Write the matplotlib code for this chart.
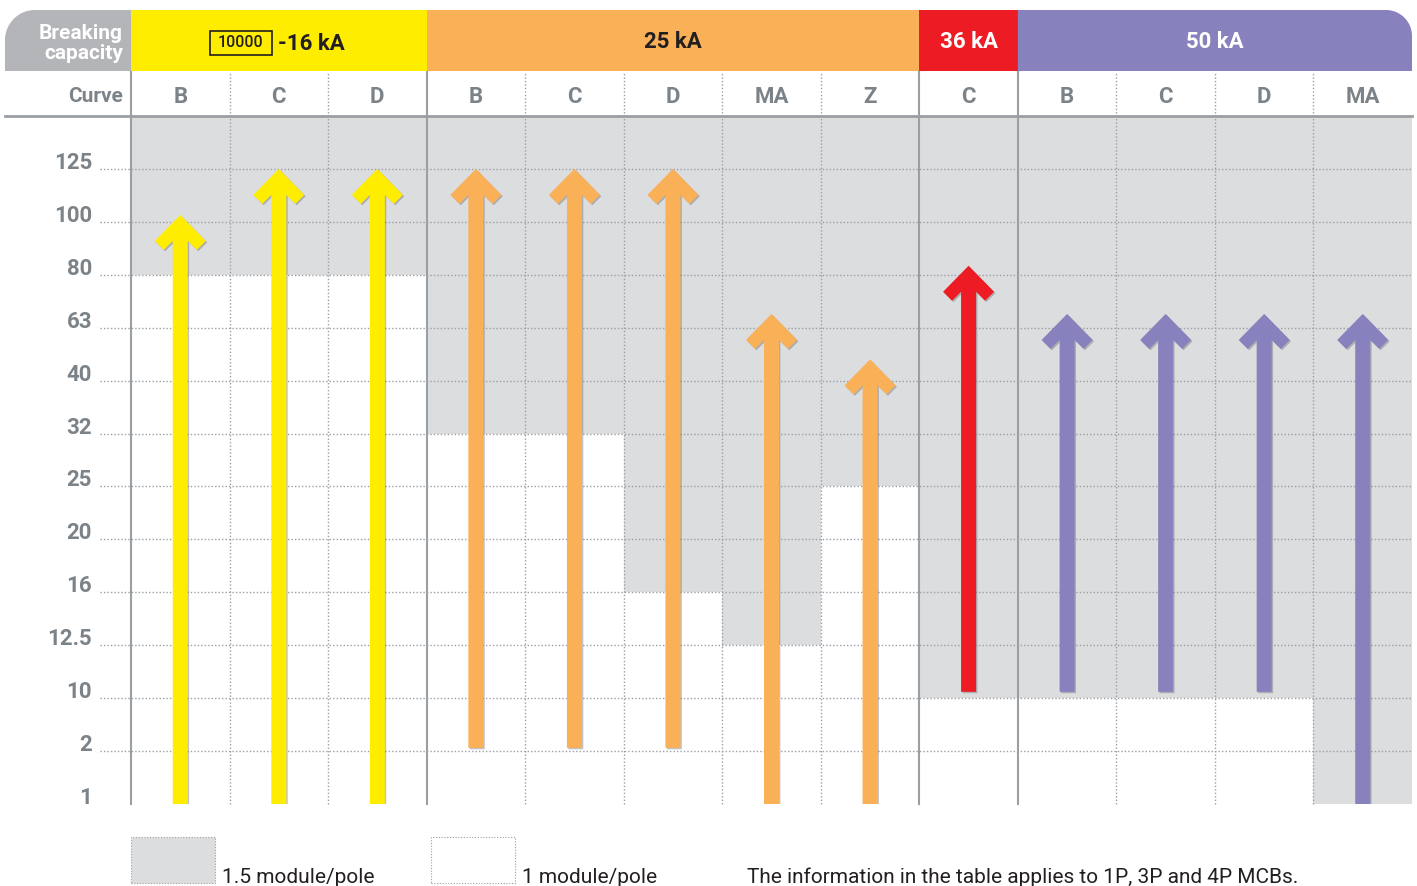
import numpy as np
import matplotlib.pyplot as plt
from matplotlib.patches import Polygon, Rectangle
import matplotlib.patheffects as pe

plt.rcParams['font.family'] = ['Roboto', 'DejaVu Sans']

# breaking current levels (y categories, bottom to top)
levels = ["1", "2", "10", "12.5", "16", "20", "25", "32", "40", "63", "80", "100", "125"]

groups = ["-16 kA", "25 kA", "36 kA", "50 kA"]
group_sizes = [3, 5, 1, 4]
curves = ["B", "C", "D", "B", "C", "D", "MA", "Z", "C", "B", "C", "D", "MA"]

# level index from which the column is 1.5 module/pole (grey)
gray_from = [10, 10, 10, 7, 7, 4, 3, 6, 2, 2, 2, 2, 0]
# arrow start / tip, in level units
arrow_bottom = [0, 0, 0, 1.06, 1.06, 1.06, 0, 0, 2.12, 2.12, 2.12, 2.12, 0]
arrow_top = [11.13, 12.0, 12.0, 12.0, 12.0, 12.0, 9.26, 8.40, 10.17, 9.26, 9.26, 9.26, 9.26]

group_colors = ["#FFED00", "#F9B057", "#ED1C24", "#8781BD"]
group_text = ["#231F20", "#231F20", "white", "white"]
head_gray = "#B3B5B8"
cell_gray = "#DCDDDF"
line_gray = "#9A9FA4"
label_gray = "#7B8389"

W, H = 1417, 886
fig = plt.figure(figsize=(W / 100, H / 100), dpi=100)
ax = fig.add_axes([131 / W, 82 / H, 1281 / W, 688 / H])
ncol, nlev = len(curves), len(levels)
ax.set_xlim(0, ncol)
ax.set_ylim(0, nlev)
ax.axis('off')
XPX = 1281 / ncol   # pixels per column
YPX = 688 / nlev    # pixels per level
hdr0 = nlev + 45 / YPX      # bottom of the coloured header band
band_top = hdr0 + 61 / YPX  # top of header band

col_group = np.repeat(np.arange(len(groups)), group_sizes)
bounds = np.concatenate([[0], np.cumsum(group_sizes)])

# grey (1.5 module/pole) cells
ax.bar(np.arange(ncol), nlev - np.array(gray_from), bottom=gray_from, width=1,
       align='edge', color=cell_gray, zorder=0)

# horizontal dotted grid + labels
for lv in range(nlev):
    if lv > 0:
        ax.plot([-31 / XPX, ncol], [lv, lv], color=line_gray, lw=1, ls=(0, (1, 1.5)),
                clip_on=False, zorder=1)
    ax.text(-39 / XPX, lv, levels[lv], ha='right', va='baseline', fontsize=16,
            fontweight='bold', color=label_gray)

# vertical lines
for x in range(ncol):
    if x in bounds:
        ax.plot([x, x], [0, hdr0], color=line_gray, lw=1.5, clip_on=False, zorder=1)
    else:
        ax.plot([x, x], [0, nlev + 44 / YPX], color=line_gray, lw=1, ls=(0, (1, 1.5)),
                clip_on=False, zorder=1)
ax.plot([-126 / XPX, ncol], [nlev, nlev], color=line_gray, lw=2, clip_on=False, zorder=2)

# curve row
ymid_curve = nlev + 19 / YPX
ax.text(-8 / XPX, ymid_curve, "Curve", ha='right', va='center', fontsize=15,
        fontweight='bold', color=label_gray)
for i, c in enumerate(curves):
    ax.text(i + 0.5, ymid_curve, c, ha='center', va='center', fontsize=16,
            fontweight='bold', color=label_gray)


def header_cell(x0, x1, color, round_left=False, round_right=False, r=30):
    rx, ry = r / XPX, r / YPX
    t = np.linspace(0, np.pi / 2, 20)
    pts = [(x0, hdr0), (x1, hdr0)]
    if round_right:
        pts += list(zip(x1 - rx + rx * np.cos(t), band_top - ry + ry * np.sin(t)))
    else:
        pts.append((x1, band_top))
    if round_left:
        pts += list(zip(x0 + rx - rx * np.sin(t), band_top - ry + ry * np.cos(t)))
    else:
        pts.append((x0, band_top))
    ax.add_patch(Polygon(pts, closed=True, fc=color, ec='none', clip_on=False, zorder=2))


ymid_band = (hdr0 + band_top) / 2
header_cell(-126 / XPX, 0, head_gray, round_left=True)
ax.text(-8 / XPX, ymid_band - 3 / YPX, "Breaking\ncapacity", ha='right', va='center',
        fontsize=15, fontweight='bold', color='white', linespacing=1.02, zorder=3)
for g, name in enumerate(groups):
    x0, x1 = bounds[g], bounds[g + 1]
    header_cell(x0, x1, group_colors[g], round_right=(g == len(groups) - 1), r=26)
    xc = (x0 + x1) / 2
    if g == 0:
        yc = ymid_band - 2.5 / YPX
        ax.add_patch(Rectangle((xc - 69 / XPX, yc - 12 / YPX), 62 / XPX, 24 / YPX,
                               fc='none', ec='#231F20', lw=1.2, clip_on=False, zorder=3))
        ax.text(xc - 38 / XPX, yc, "10000", ha='center', va='center', fontsize=11.5,
                fontweight='medium', color='#231F20', zorder=4)
        ax.text(xc - 1 / XPX, ymid_band - 4 / YPX, name, ha='left', va='center',
                fontsize=16, fontweight='bold', color=group_text[g], zorder=4)
    else:
        ax.text(xc, ymid_band - 2 / YPX, name, ha='center', va='center', fontsize=16,
                fontweight='bold', color=group_text[g], zorder=4)

# arrows
head = [(0, 0), (25.5, 26), (16.5, 35), (7.5, 26)]
shadow = [pe.SimplePatchShadow(offset=(1, -1), shadow_rgbFace='#555555', alpha=0.35),
          pe.Normal()]
for i in range(ncol):
    cx, t, b = i + 0.5, arrow_top[i], arrow_bottom[i]
    right = [(cx + dx / XPX, t - dy / YPX) for dx, dy in head]
    right += [(cx + 7.5 / XPX, b)]
    left = [(2 * cx - x, y) for x, y in right[1:]][::-1]
    ax.add_patch(Polygon(right + left, closed=True, fc=group_colors[col_group[i]],
                         ec='none', zorder=5, path_effects=shadow))

# legend
yb, yt = -79 / YPX, -33 / YPX
ax.add_patch(Rectangle((0, yb), 84 / XPX, yt - yb, fc=cell_gray, ec=line_gray, lw=0.8,
                       ls=(0, (1, 1.5)), clip_on=False))
ax.text(91 / XPX, yb, "1.5 module/pole", ha='left', va='baseline', fontsize=15,
        color='#231F20')
ax.add_patch(Rectangle((300 / XPX, yb), 84 / XPX, yt - yb, fc='white', ec=line_gray, lw=0.8,
                       ls=(0, (1, 1.5)), clip_on=False))
ax.text(391 / XPX, yb, "1 module/pole", ha='left', va='baseline', fontsize=15,
        color='#231F20')
ax.text(616 / XPX, yb, "The information in the table applies to 1P, 3P and 4P MCBs.",
        ha='left', va='baseline', fontsize=15, color='#231F20')

fig.savefig("out.png", dpi=100)
